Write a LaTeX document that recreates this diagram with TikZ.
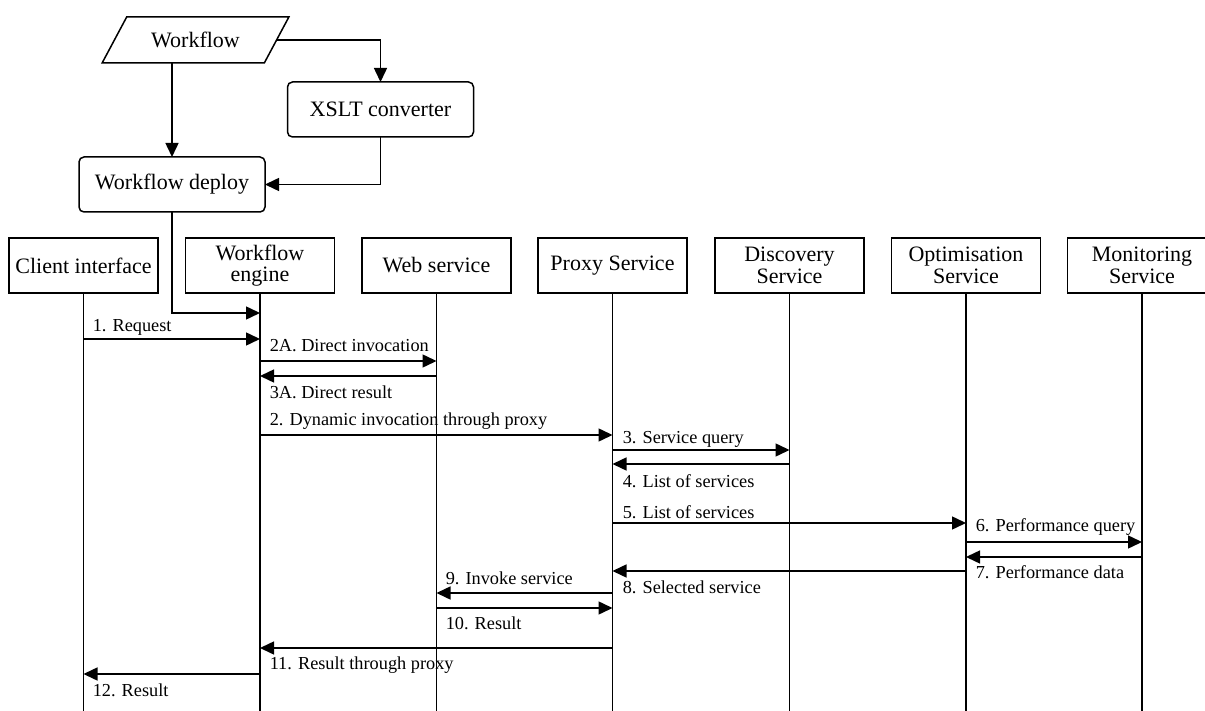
\documentclass[tikz,border=0pt]{standalone}
\usepackage{fontspec}
\setmainfont{Liberation Serif}
\usetikzlibrary{arrows.meta,shapes.geometric}
\begin{document}
\begin{tikzpicture}[x=1pt,y=-1pt,line width=1.5pt,
  box/.style={draw, line width=1.5pt, minimum width=149pt, minimum height=55pt, inner sep=0pt, outer sep=0pt, align=center, font=\fontsize{22}{21.5}\selectfont},
  rbox/.style={box, rounded corners=5pt, minimum width=186pt},
  life/.style={line width=1.5pt},
  msg/.style={-{Triangle[length=14pt,width=13pt]}, line width=1.5pt},
  lbl/.style={anchor=west, inner sep=0pt, font=\fontsize{18.3}{20}\selectfont},
]
\useasboundingbox (0,0) rectangle (1205,711);
% top flow
\node[draw, trapezium, trapezium left angle=45, trapezium right angle=135, trapezium stretches=true,
      minimum width=187pt, minimum height=46pt, inner sep=0pt, outer sep=0pt, line width=1.5pt,
      font=\fontsize{22}{20}\selectfont] (wf) at (195.5,40) {Workflow};
\node[rbox] (xslt) at (380.5,109.5) {XSLT converter};
\node[rbox] (deploy) at (172,184.5) {Workflow deploy};
% headers
\node[box] (client) at (83.5,265.5) {Client interface};
\node[box] (engine) at (260,265.5) {Workflow\\engine};
\node[box] (web) at (436.5,265.5) {Web service};
\node[box] (proxy) at (612.5,265.5) {Proxy Service};
\node[box] (disc) at (789.5,265.5) {Discovery\\Service};
\node[box] (optim) at (966,265.5) {Optimisation\\Service};
\begin{scope}
\clip (0,0) rectangle (1205,711);
\node[box] (mon) at (1142,265.5) {Monitoring\\Service};
\end{scope}
% lifelines
\foreach \n in {client,engine,web,proxy,disc,optim,mon}{
  \coordinate (\n-end) at (\n |- 0,711);
  \draw[life] (\n.south) -- (\n-end);
}
% flow connectors
\draw[msg] (deploy.north |- wf.south) -- (deploy.north);
\draw[msg] (wf.east) -| (xslt.north);
\draw[msg] (xslt.south) |- (deploy.east);
\draw[msg] (deploy.south) |- (engine |- 0,313);
% messages
\draw[msg] (client |- 0,339) -- (engine |- 0,339);
\node[lbl] (l1) at (92,327) {1. Request};
\draw[msg] (engine |- 0,361) -- (web |- 0,361);
\node[lbl] (l2a) at (269,346) {2A. Direct invocation};
\draw[msg] (web |- 0,376) -- (engine |- 0,376);
\node[lbl] (l3a) at (269,392) {3A. Direct result};
\draw[msg] (engine |- 0,435) -- (proxy |- 0,435);
\node[lbl] (l2) at (269,421) {2. Dynamic invocation through proxy};
\draw[msg] (proxy |- 0,450) -- (disc |- 0,450);
\node[lbl] (l3) at (622,439) {3. Service query};
\draw[msg] (disc |- 0,464) -- (proxy |- 0,464);
\node[lbl] (l4) at (622,481) {4. List of services};
\draw[msg] (proxy |- 0,523) -- (optim |- 0,523);
\node[lbl] (l5) at (622,512) {5. List of services};
\draw[msg] (optim |- 0,542) -- (mon |- 0,542);
\node[lbl] (l6) at (975,527) {6. Performance query};
\draw[msg] (mon |- 0,557) -- (optim |- 0,557);
\node[lbl] (l7) at (975,572) {7. Performance data};
\draw[msg] (optim |- 0,571) -- (proxy |- 0,571);
\node[lbl] (l8) at (622,587) {8. Selected service};
\draw[msg] (proxy |- 0,593) -- (web |- 0,593);
\node[lbl] (l9) at (445,578) {9. Invoke service};
\draw[msg] (web |- 0,608) -- (proxy |- 0,608);
\node[lbl] (l10) at (445,623) {10. Result};
\draw[msg] (proxy |- 0,648) -- (engine |- 0,648);
\node[lbl] (l11) at (269,665) {11. Result through proxy};
\draw[msg] (engine |- 0,674) -- (client |- 0,674);
\node[lbl] (l12) at (92,690) {12. Result};
\end{tikzpicture}
\end{document}
